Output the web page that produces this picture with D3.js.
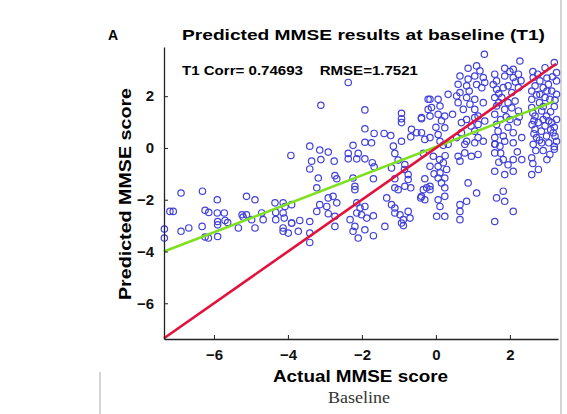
<!DOCTYPE html>
<html>
<head>
<meta charset="utf-8">
<script src="https://cdn.jsdelivr.net/npm/d3@7/dist/d3.min.js"></script>
<style>
body { margin: 0; background: #fff; }
</style>
</head>
<body>
<div id="plot"></div>
<script>
// actual vs predicted MMSE (baseline)
var scores = [
  [-3.11,1.65],[-1.92,1.47],[-0.93,1.34],[-0.93,1.13],[-0.93,0.98],[-0.39,1.13],[-1.92,0.74],[-1.67,0.56],
  [-1.40,0.56],[-1.22,0.48],[-0.66,0.72],[-0.68,0.43],[-0.39,0.59],[-0.30,0.33],[-1.92,0.22],[-1.74,0.20],
  [-0.93,0.26],[-2.24,0.10],[-1.15,0.07],[-3.92,-0.29],[-3.41,0.07],[-3.14,-0.08],[-2.91,-0.16],[-3.36,-0.51],
  [-3.41,-0.81],[-3.11,-0.45],[-2.75,-0.51],[-2.37,-0.21],[-2.37,-0.42],[-2.14,-0.42],[-2.10,-0.21],[-1.92,-0.42],
  [-1.72,-0.57],[-1.67,-0.73],[-1.11,-0.21],[-1.02,-0.47],[-1.20,-0.77],[-0.84,-0.64],[-0.85,-0.83],[-0.34,-0.21],
  [-3.18,-1.16],[-2.73,-1.07],[-2.68,-1.19],[-3.22,-1.54],[-2.24,-1.16],[-2.19,-1.48],[-2.19,-1.61],[-1.69,-1.19],
  [-1.11,-1.19],[-0.75,-1.03],[-0.75,-1.22],[-0.68,-1.54],[-0.84,-1.48],[-1.11,-1.54],[-1.02,-1.61],[-0.30,-1.19],
  [-0.34,-1.61],[-0.41,-1.93],[-3.90,-2.19],[-4.08,-2.26],[-2.91,-1.93],[-2.78,-1.87],[-2.95,-2.26],[-2.68,-2.12],
  [-3.14,-2.19],[-2.91,-2.54],[-2.73,-2.64],[-3.22,-2.45],[-3.90,-2.90],[-3.68,-2.80],[-3.41,-2.84],[-3.72,-3.22],
  [-3.41,-3.29],[-3.99,-3.29],[-2.73,-3.03],[-3.41,-3.65],[-2.14,-2.12],[-2.05,-2.32],[-1.92,-2.26],[-2.14,-2.51],
  [-2.01,-2.58],[-1.87,-2.71],[-1.69,-2.62],[-2.32,-2.77],[-2.19,-3.03],[-2.24,-3.22],[-2.10,-3.48],[-1.92,-3.16],
  [-1.69,-3.39],[-1.38,-3.03],[-1.33,-1.93],[-1.20,-2.19],[-1.11,-2.32],[-1.11,-2.51],[-0.97,-2.58],[-0.88,-2.77],
  [-0.93,-2.90],[-0.70,-2.71],[-0.88,-3.00],[-0.39,-1.87],[-0.30,-2.00],
  [-7.34,-3.13],[-7.34,-3.48],[-7.19,-2.45],[-7.10,-2.45],[-6.89,-1.74],[-6.89,-3.22],[-6.68,-3.09],[-6.31,-1.67],
  [-6.24,-2.41],[-6.14,-2.49],[-6.32,-3.03],[-6.24,-3.44],[-6.15,-3.48],[-5.91,-2.00],[-5.91,-2.51],[-5.72,-2.51],
  [-5.90,-2.84],[-5.70,-2.80],[-5.90,-2.97],[-5.63,-2.88],[-5.90,-3.42],[-5.34,-3.09],[-5.24,-2.58],[-5.12,-1.87],
  [-4.89,-2.00],[-5.21,-2.67],[-5.12,-2.58],[-4.89,-3.09],[-4.98,-2.77],[-4.71,-2.51],[-4.67,-2.77],[-4.35,-2.12],
  [-4.13,-2.12],[-4.33,-2.49],[-4.33,-2.77],[-4.13,-2.51],[-4.10,-2.71],[-4.13,-3.09],[-4.13,-3.22],[-3.90,-2.90],
  [-2.37,2.53],[-0.39,1.17],[-0.21,1.88],[-0.21,1.49],[-0.52,0.59],[-0.25,-1.54],[-0.16,-1.48],[-0.75,-2.45],
  [1.31,3.62],[0.87,3.08],[1.10,3.17],[1.19,2.98],[1.05,2.78],[0.65,2.78],[0.60,2.46],[0.83,2.40],
  [0.65,2.14],[0.87,2.66],[1.28,2.72],[1.24,2.33],[1.32,2.53],[1.59,2.85],[1.64,2.59],[1.86,3.08],
  [1.86,2.78],[2.09,3.04],[2.09,2.72],[2.23,2.85],[2.27,3.36],[1.64,2.27],[1.82,2.33],[1.95,2.40],
  [2.05,2.14],[2.23,2.33],[2.63,2.72],[2.68,2.40],[2.81,2.59],[2.90,2.33],[3.04,2.46],[3.13,2.20],
  [3.26,2.91],[3.26,2.59],[2.59,2.20],[2.59,1.88],[2.81,2.07],[2.95,1.95],[3.08,1.88],[3.26,2.07],
  [-0.16,1.88],[0.06,1.88],[-0.12,1.56],[0.11,1.62],[-0.16,1.23],[0.06,1.30],[0.24,1.23],[0.33,2.07],
  [0.56,2.01],[0.60,1.75],[0.83,1.95],[0.92,1.69],[1.05,1.88],[1.28,1.75],[0.74,1.49],[1.05,1.49],
  [1.14,1.23],[0.83,1.10],[0.69,0.98],[1.59,1.95],[1.78,1.95],[1.64,1.62],[1.95,1.75],[1.86,1.49],
  [2.14,1.81],[2.23,1.43],[1.59,1.30],[1.64,0.91],[1.68,0.65],[1.59,0.40],[1.82,0.46],[2.00,1.10],
  [2.09,0.59],[2.32,0.40],[2.59,1.56],[2.68,1.23],[2.86,1.43],[2.99,1.23],[2.77,0.98],[2.68,0.72],
  [2.95,0.85],[3.13,0.98],[3.26,1.10],[2.72,0.40],[2.99,0.46],[3.17,0.59],[3.26,0.26],[1.05,1.17],
  [1.14,0.91],[1.32,1.04],[1.05,0.65],[1.14,0.40],[0.24,0.78],[0.06,0.52],[-0.16,0.40],[0.11,0.26],
  [0.69,0.59],[0.83,0.26],[1.28,0.26],[0.56,0.40],[3.20,3.30],
  [0.33,0.14],[0.78,0.14],[1.05,0.20],[1.14,-0.25],[0.96,-0.32],[0.78,-0.19],[0.60,-0.32],[0.65,-0.51],
  [-0.07,-0.32],[-0.16,-0.71],[0.06,-0.71],[0.20,-0.57],[0.29,-0.83],[0.11,-0.96],[0.06,-1.16],[0.24,-1.16],
  [-0.16,-1.61],[0.24,-1.54],[0.24,-1.87],[0.06,-2.00],[0.11,-2.26],[0.02,-2.64],[0.24,-2.64],[0.87,-1.35],
  [1.10,-1.74],[0.83,-2.06],[0.65,-2.19],[0.65,-2.45],[0.65,-2.77],[1.59,0.14],[1.73,0.07],[1.86,0.26],
  [2.09,0.20],[1.59,-0.19],[1.82,-0.45],[2.09,-0.45],[1.59,-0.90],[1.86,-1.03],[2.09,-0.90],[2.32,-0.45],
  [2.59,-0.38],[2.63,0.14],[2.86,0.20],[3.08,-0.25],[2.59,-1.03],[2.77,-0.83],[1.64,-1.93],[1.82,-1.67],
  [1.86,-2.06],[2.09,-2.45],[1.59,-2.84],
  [2.75,2.85],[3.00,2.70],[2.90,1.60],[3.10,1.40],[2.65,1.05],[3.20,1.60],[2.85,0.65],[3.05,0.20],
  [2.70,-0.10],[3.20,-0.05],[1.70,2.10],[2.15,2.55],[1.90,1.20],[2.20,1.00],[1.75,-0.20],[0.90,2.20],
  [1.10,2.45],[0.45,1.30],[0.95,0.85],
  [2.62,2.95],[2.95,3.10],[3.15,2.75],[2.72,2.05],[3.00,2.20],[3.22,1.85],[2.62,1.35],[2.80,1.75],
  [3.05,1.05],[2.60,0.90],[2.90,1.10],[3.20,0.80],[2.80,0.30],[3.10,0.70],[2.65,0.55],[3.22,0.45],
  [2.90,-0.10],[2.62,-0.60],[3.00,-0.45],[3.20,0.05],[1.55,2.45],[2.00,2.95],[2.30,2.60],[1.70,1.75],
  [2.05,1.55],[1.75,1.10],[2.25,1.20],[1.95,0.80],[1.60,0.15],[2.20,-0.15],[1.95,-0.65],[1.70,-0.55],
  [0.15,1.05],[0.00,0.80],[0.20,0.10],[0.10,-0.45],[0.25,-0.30],[-0.05,-1.00],[0.15,-1.35]
];

// y = x reference line and least-squares fit (end points)
var identityEnds = [-7.35, 3.25];
var fitEnds = [[-7.35, -4.0], [3.2, 1.8]];

var xTicks = [-6, -4, -2, 0, 2];
var yTicks = [-6, -4, -2, 0, 2];

var svgW = 567, svgH = 414;
var margin = {left: 164, right: 558, top: 47, bottom: 339};
var font = "Arial, 'Liberation Sans', sans-serif";

var svg = d3.select("#plot").append("svg")
  .attr("width", svgW)
  .attr("height", svgH)
  .style("font-family", font);

var x = d3.scaleLinear().domain([-7.35, 3.3]).range([margin.left, margin.right]);
var y = d3.scaleLinear().domain([-7.38, 3.9]).range([margin.bottom, margin.top]);

// frame pieces of the cropped figure
svg.append("line")
  .attr("x1", 561).attr("x2", 561).attr("y1", 0).attr("y2", svgH)
  .style("stroke", "#aaa").style("stroke-width", 1);
svg.append("line")
  .attr("x1", 100).attr("x2", 100).attr("y1", 372).attr("y2", svgH)
  .style("stroke", "#aaa").style("stroke-width", 1);

// points
svg.selectAll(".pt")
  .data(scores)
  .enter()
  .append("circle")
  .attr("class", "pt")
  .attr("cx", function(d){ return x(d[0]) })
  .attr("cy", function(d){ return y(d[1]) })
  .attr("r", 3.2)
  .style("fill", "none")
  .style("stroke", "#4242da")
  .style("stroke-width", 1.2);

// fit line
svg.append("line")
  .attr("x1", x(fitEnds[0][0])).attr("y1", y(fitEnds[0][1]))
  .attr("x2", x(fitEnds[1][0])).attr("y2", y(fitEnds[1][1]))
  .style("stroke", "#7ee01e")
  .style("stroke-width", 2.6);

// identity line
svg.append("line")
  .attr("x1", x(identityEnds[0])).attr("y1", y(identityEnds[0]))
  .attr("x2", x(identityEnds[1])).attr("y2", y(identityEnds[1]))
  .style("stroke", "#e3123c")
  .style("stroke-width", 2.6);

// axes
var xAxis = svg.append("g")
  .attr("transform", "translate(0," + margin.bottom + ")")
  .call(d3.axisBottom(x).tickValues(xTicks).tickSizeInner(-4).tickSizeOuter(0).tickPadding(10));
var yAxis = svg.append("g")
  .attr("transform", "translate(" + margin.left + ",0)")
  .call(d3.axisLeft(y).tickValues(yTicks).tickSizeInner(-4).tickSizeOuter(0).tickPadding(10));

[xAxis, yAxis].forEach(function(g){
  g.select(".domain").style("stroke", "#222").style("stroke-width", 1.3);
  g.selectAll(".tick line").style("stroke", "#222");
  g.selectAll(".tick text")
    .style("font-family", font)
    .style("font-size", "15px")
    .style("font-weight", "bold")
    .style("fill", "#111");
});

// titles
svg.append("text")
  .attr("x", 108).attr("y", 40)
  .style("font-size", "14px").style("font-weight", "bold")
  .text("A");
svg.append("text")
  .attr("x", 182).attr("y", 40)
  .attr("textLength", 363).attr("lengthAdjust", "spacingAndGlyphs")
  .style("font-size", "15px").style("font-weight", "bold")
  .text("Predicted MMSE results at baseline (T1)");
svg.append("text")
  .attr("x", 182).attr("y", 75)
  .attr("textLength", 236).attr("lengthAdjust", "spacingAndGlyphs")
  .style("font-size", "13px").style("font-weight", "bold")
  .style("white-space", "pre")
  .text("T1 Corr= 0.74693    RMSE=1.7521");

svg.append("text")
  .attr("x", 273).attr("y", 382)
  .attr("textLength", 175).attr("lengthAdjust", "spacingAndGlyphs")
  .style("font-size", "16px").style("font-weight", "bold")
  .text("Actual MMSE score");
svg.append("text")
  .attr("x", 328).attr("y", 403)
  .attr("textLength", 62).attr("lengthAdjust", "spacingAndGlyphs")
  .style("font-family", "'Liberation Serif', 'Times New Roman', serif")
  .style("font-size", "16px")
  .style("fill", "#333")
  .text("Baseline");
svg.append("text")
  .attr("transform", "translate(131,300) rotate(-90)")
  .attr("textLength", 212).attr("lengthAdjust", "spacingAndGlyphs")
  .style("font-size", "16px").style("font-weight", "bold")
  .text("Predicted MMSE score");
</script>
</body>
</html>
